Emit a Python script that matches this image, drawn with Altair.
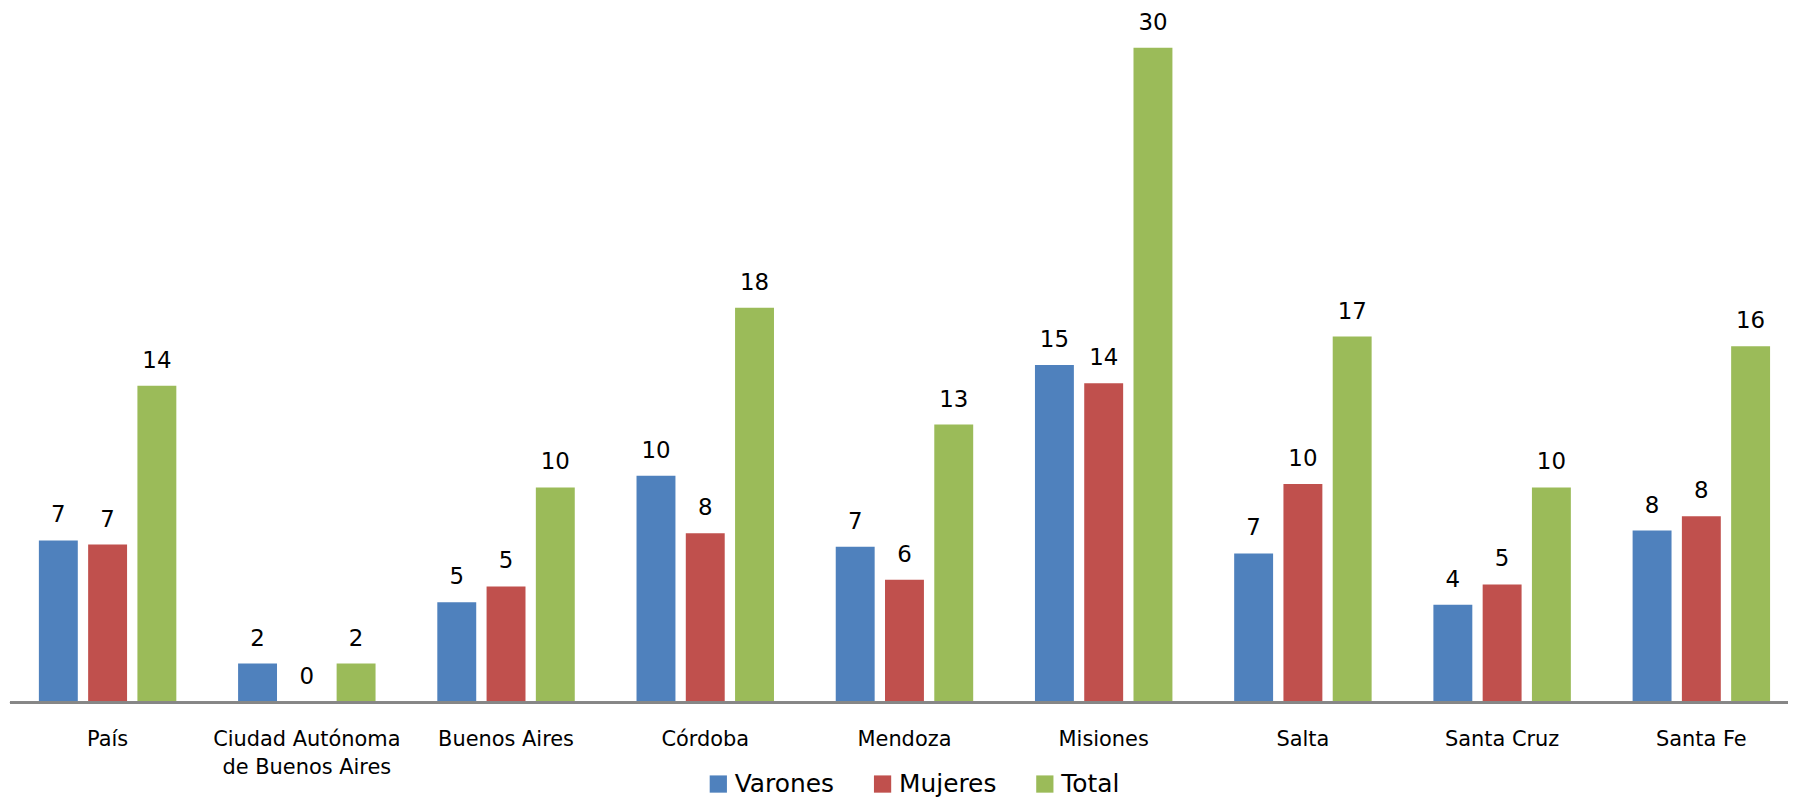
import altair as alt
import pandas as pd

categories = ["País", "Ciudad Autónoma de Buenos Aires", "Buenos Aires", "Córdoba",
              "Mendoza", "Misiones", "Salta", "Santa Cruz", "Santa Fe"]
series = ["Varones", "Mujeres", "Total"]
varones = [7.33, 1.73, 4.52, 10.27, 7.04, 15.30, 6.74, 4.41, 7.78]
mujeres = [7.14, 0.00, 5.24, 7.66, 5.54, 14.47, 9.90, 5.33, 8.43]
total = [14.36, 1.73, 9.74, 17.91, 12.60, 29.73, 16.60, 9.74, 16.16]
colors = ["#4F81BD", "#C0504D", "#9BBB59"]

rows = []
for i, c in enumerate(categories):
    for s, vals in zip(series, [varones, mujeres, total]):
        rows.append({"cat": c, "serie": s, "valor": vals[i]})
df = pd.DataFrame(rows)

FONT = "DejaVu Sans"
W, H = 1775, 685

x_enc = alt.X("cat:N", sort=categories, title=None,
              scale=alt.Scale(paddingInner=0.31, paddingOuter=0.09),
              axis=alt.Axis(labelAngle=0, ticks=False, domain=False,
                            labelFont=FONT, labelFontSize=21, labelColor="#000000",
                            labelPadding=27, labelLineHeight=28, labelLimit=400,
                            labelExpr="datum.label == 'Ciudad Autónoma de Buenos Aires' ? ['Ciudad Autónoma', 'de Buenos Aires'] : datum.label"))
xo_enc = alt.XOffset("serie:N", sort=series,
                     scale=alt.Scale(paddingInner=0.21, paddingOuter=0))
y_enc = alt.Y("valor:Q", axis=None, scale=alt.Scale(domain=[0, 31], nice=False, zero=True))

bars = alt.Chart(df).mark_bar().encode(
    x=x_enc, xOffset=xo_enc, y=y_enc,
    color=alt.Color("serie:N", sort=series, title=None,
                    scale=alt.Scale(domain=series, range=colors),
                    legend=alt.Legend(orient="none", direction="horizontal",
                                      legendX=688, legendY=755,
                                      symbolType="square", symbolSize=300,
                                      symbolStrokeWidth=0, symbolOpacity=1,
                                      labelFont=FONT, labelFontSize=25, labelColor="#000000",
                                      labelOffset=4, columnPadding=36, labelLimit=300)),
)

baseline = alt.Chart(df).mark_rule(color="#868686", strokeWidth=2).encode(
    x=alt.value(-11), x2=alt.value(W), y=alt.value(H + 1)
)

labels = alt.Chart(df).mark_text(baseline="alphabetic", dy=-18, font=FONT, fontSize=23,
                                  color="#000000").encode(
    x=alt.X("cat:N", sort=categories),
    xOffset=alt.XOffset("serie:N", sort=series),
    y=alt.Y("valor:Q"),
    text=alt.Text("valor:Q", format=".0f"),
)

chart = alt.layer(bars, baseline, labels).properties(
    width=W, height=H,
    autosize=alt.AutoSizeParams(type="none"),
    padding={"left": 13, "top": 10, "right": 0, "bottom": 96},
).configure_view(stroke=None).configure_axis(grid=False)

chart.save("out.html", embed_options={"renderer": "svg", "actions": False})
